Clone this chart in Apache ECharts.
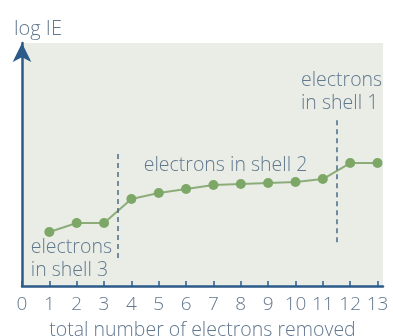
<!DOCTYPE html>
<html>
<head>
<meta charset="utf-8">
<script src="https://cdn.jsdelivr.net/npm/echarts@6/dist/echarts.min.js"></script>
<style>
  html, body { margin: 0; padding: 0; background: #ffffff; }
  #chart { width: 393px; height: 336px; }
</style>
</head>
<body>
<div id="chart"></div>
<script>
// Successive ionisation energies (log scale, relative units)
const electronsRemoved = [1, 2, 3, 4, 5, 6, 7, 8, 9, 10, 11, 12, 13];
const logIE = [22.2, 25.9, 25.9, 35.8, 38.3, 39.9, 41.6, 42.0, 42.4, 42.8, 44.0, 50.6, 50.6];
const tickValues = [0, 1, 2, 3, 4, 5, 6, 7, 8, 9, 10, 11, 12, 13];

// Shell boundaries (dashed separators) and their vertical extents
const shellBreaks = [
  { x: 3.5, from: 11.5, to: 56 },
  { x: 11.5, from: 18, to: 68.3 }
];
// Shell annotations: text lines and anchor (top-left) in data coords
const shellLabels = [
  { lines: ['electrons', 'in shell 3'], x: 0.32, y: 20.4 },
  { lines: ['electrons in shell 2'], x: 4.45, y: 54.5 },
  { lines: ['electrons', 'in shell 1'], x: 10.2, y: 89.5 }
];

const textColor = '#62788f';
const axisColor = '#2d5b89';
const fontFamily = '"Open Sans", "Noto Sans", sans-serif';
const fontWeight = 300;

const chart = echarts.init(document.getElementById('chart'), null, { renderer: 'canvas' });

const option = {
  animation: false,
  grid: {
    left: 22, right: 10, top: 43, bottom: 50,
    outerBoundsMode: 'none', containLabel: false,
    show: true, backgroundColor: '#e9ede6', borderWidth: 0
  },
  xAxis: {
    type: 'value', min: 0, max: 13.2,
    name: 'total number of electrons removed',
    nameLocation: 'middle', nameGap: 34,
    nameTextStyle: { color: textColor, fontSize: 19.5, fontFamily: fontFamily, fontWeight: fontWeight },
    axisLine: { show: true, lineStyle: { color: axisColor, width: 2.5 } },
    axisTick: { show: true, inside: true, length: 5, customValues: tickValues,
      lineStyle: { color: axisColor, width: 1.5 } },
    axisLabel: { customValues: tickValues, color: textColor, fontSize: 19,
      fontFamily: fontFamily, fontWeight: fontWeight, margin: 9 },
    splitLine: { show: false }
  },
  yAxis: {
    type: 'value', min: 0, max: 100,
    name: 'log IE', nameLocation: 'end', nameGap: 4,
    nameTextStyle: { color: textColor, fontSize: 20, fontFamily: fontFamily,
      fontWeight: fontWeight, align: 'left', padding: [0, 0, 0, -8] },
    axisLine: { show: true, symbol: ['none', 'arrow'], symbolSize: [14, 19],
      lineStyle: { color: axisColor, width: 2.5 } },
    axisTick: { show: false },
    axisLabel: { show: false },
    splitLine: { show: false }
  },
  series: [{
    type: 'line',
    data: electronsRemoved.map((n, i) => [n, logIE[i]]),
    symbol: 'circle', symbolSize: 10,
    itemStyle: { color: '#7ca766' },
    lineStyle: { color: '#8cad7a', width: 2 },
    markLine: {
      silent: true, symbol: ['none', 'none'],
      label: { show: false },
      lineStyle: { color: '#4b6a87', width: 1.5, type: [5, 4] },
      data: shellBreaks.map(b => [{ coord: [b.x, b.from] }, { coord: [b.x, b.to] }])
    }
  }]
};
chart.setOption(option);

// Place shell annotations from data coordinates
const graphics = shellLabels.map(lbl => {
  const p = chart.convertToPixel({ gridIndex: 0 }, [lbl.x, lbl.y]);
  return {
    type: 'text', x: p[0], y: p[1],
    style: {
      text: lbl.lines.join('\n'), fill: textColor,
      font: fontWeight + ' 19.5px ' + fontFamily, lineHeight: 23,
      textAlign: 'left', textVerticalAlign: 'top'
    }
  };
});
chart.setOption({ graphic: graphics });
</script>
</body>
</html>
